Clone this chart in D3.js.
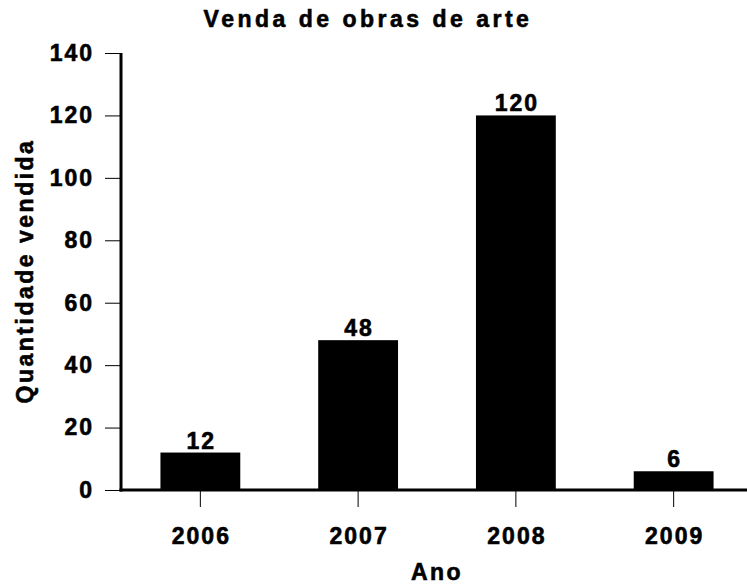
<!DOCTYPE html>
<html lang="pt">
<head>
<meta charset="utf-8">
<title>Venda de obras de arte</title>
<script src="https://d3js.org/d3.v7.min.js"></script>
<style>
  body { margin: 0; background: #fff; }
  text { font-family: "Liberation Sans", Arial, sans-serif; font-weight: bold; fill: #000;
         stroke: #000; stroke-width: 0.6px; }
</style>
</head>
<body>
<svg id="chart"></svg>
<script>
    // data
    const years = ["2006", "2007", "2008", "2009"];
    const sales = [12, 48, 120, 6];
    const yTicks = [0, 20, 40, 60, 80, 100, 120, 140];

    let width = 747,
        height = 585,
        margin = {top: 53, right: 0, bottom: 95, left: 121};

    const fontSize = "23px",
          spacing = 2;

    let svg = d3.select("#chart")
        .attr("width", width)
        .attr("height", height);

    let x = d3.scaleBand()
        .domain(years)
        .range([margin.left, margin.left + 632])
        .paddingInner(0.494)
        .paddingOuter(0.25);

    let y = d3.scaleLinear()
        .domain([0, 140])
        .range([height - margin.bottom, margin.top]);

    // bars
    svg.append("g")
        .selectAll("rect")
        .data(years)
        .join("rect")
        .attr("x", d => x(d))
        .attr("width", x.bandwidth())
        .attr("y", (d, i) => y(sales[i]))
        .attr("height", (d, i) => y(0) - y(sales[i]))
        .attr("fill", "#000");

    // value labels
    svg.append("g")
        .selectAll("text")
        .data(years)
        .join("text")
        .attr("x", d => x(d) + x.bandwidth() / 2 + spacing / 2)
        .attr("y", (d, i) => y(sales[i]) - 4)
        .attr("text-anchor", "middle")
        .style("font-size", fontSize)
        .style("letter-spacing", spacing + "px")
        .text((d, i) => sales[i]);

    // y axis
    let yAxis = svg.append("g")
        .attr("transform", `translate(${margin.left},0)`)
        .call(d3.axisLeft(y).tickValues(yTicks).tickSize(16).tickPadding(11));
    yAxis.select(".domain").remove();
    yAxis.selectAll(".tick line").attr("stroke", "#000").attr("stroke-width", 1);
    yAxis.selectAll(".tick text")
        .attr("font-family", null).attr("font-size", null)
        .style("font-size", fontSize).style("letter-spacing", spacing + "px");
    svg.append("line")
        .attr("x1", margin.left).attr("x2", margin.left)
        .attr("y1", y(140)).attr("y2", y(0) + 1.5)
        .attr("stroke", "#000").attr("stroke-width", 3);

    // x axis
    let xAxis = svg.append("g")
        .attr("transform", `translate(0,${y(0)})`)
        .call(d3.axisBottom(x).tickSize(17).tickPadding(21));
    xAxis.select(".domain").remove();
    xAxis.selectAll(".tick line").attr("stroke", "#000").attr("stroke-width", 1);
    xAxis.selectAll(".tick text")
        .attr("font-family", null).attr("font-size", null)
        .attr("x", spacing / 2)
        .style("font-size", fontSize).style("letter-spacing", spacing + "px");
    svg.append("line")
        .attr("x1", margin.left - 1.5).attr("x2", width)
        .attr("y1", y(0)).attr("y2", y(0))
        .attr("stroke", "#000").attr("stroke-width", 3);

    // titles
    svg.append("text")
        .attr("x", 368)
        .attr("y", 27)
        .attr("text-anchor", "middle")
        .style("font-size", "23px")
        .style("letter-spacing", "3.5px")
        .text("Venda de obras de arte");

    svg.append("text")
        .attr("x", 437)
        .attr("y", 580)
        .attr("text-anchor", "middle")
        .style("font-size", fontSize)
        .style("letter-spacing", "2.5px")
        .text("Ano");

    svg.append("text")
        .attr("transform", "translate(33,271) rotate(-90)")
        .attr("text-anchor", "middle")
        .style("font-size", fontSize)
        .style("letter-spacing", "2.5px")
        .text("Quantidade vendida");
</script>
</body>
</html>
